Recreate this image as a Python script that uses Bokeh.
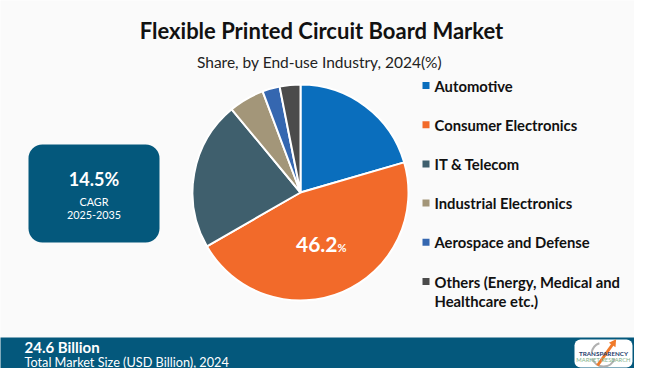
import math
from bokeh.plotting import figure
from bokeh.models import Range1d, ColumnDataSource
from bokeh.core.properties import value
from bokeh.embed import file_html
from bokeh.resources import INLINE

# ---- data ----
segments = ["Automotive", "Consumer Electronics", "IT & Telecom",
            "Industrial Electronics", "Aerospace and Defense",
            "Others (Energy, Medical and Healthcare etc.)"]
shares = [20.5, 46.2, 22.3, 5.3, 2.6, 3.1]
colors = ["#0A6EBD", "#F26A2A", "#3F5F6D", "#A39679", "#3567B0", "#4B4B4B"]
legend_lines = [["Automotive"], ["Consumer Electronics"], ["IT & Telecom"],
                ["Industrial Electronics"], ["Aerospace and Defense"],
                ["Others (Energy, Medical and", "Healthcare etc.)"]]
highlight_index = 1

title = "Flexible Printed Circuit Board Market"
subtitle = "Share, by End-use Industry, 2024(%)"
cagr_value = "14.5%"
cagr_label = "CAGR"
cagr_period = "2025-2035"
market_value = "24.6 Billion"
market_label = "Total Market Size (USD Billion), 2024"

DARK = "#04587C"
BG = "#FAFAFA"
TF = value("Lato")

W, H = 634, 368


def X(x):
    return x


def Y(y):
    return H - y


p = figure(width=W, height=H, x_range=Range1d(0, W), y_range=Range1d(0, H),
           output_backend="svg", toolbar_location=None, min_border=0)
p.axis.visible = False
p.grid.visible = False
p.outline_line_color = None
p.background_fill_color = BG
p.border_fill_color = BG

# ---- titles ----
p.text(x=[X(321)], y=[Y(30)], text=[title], text_font=TF, text_font_style="bold",
       text_font_size="22px", text_color="#111111", text_align="center", text_baseline="middle")
p.text(x=[X(319)], y=[Y(61)], text=[subtitle], text_font=TF,
       text_font_size="15.5px", text_color="#222222", text_align="center", text_baseline="middle")

# ---- pie ----
cx, cy, R = X(300), Y(192), 108
starts, ends, mids = [], [], []
cum = 0.0
total = sum(shares)
for s in shares:
    a0 = math.pi / 2 - cum / total * 2 * math.pi
    cum += s
    a1 = math.pi / 2 - cum / total * 2 * math.pi
    starts.append(a0)
    ends.append(a1)
    mids.append((a0 + a1) / 2)
src = ColumnDataSource(dict(start=starts, end=ends, color=colors, name=segments, share=shares))
p.wedge(x=cx, y=cy, radius=R, start_angle="start", end_angle="end", direction="clock",
        fill_color="color", line_color="white", line_width=2, source=src)

# highlight label
m = mids[highlight_index]
lx = cx + 0.52 * R * math.cos(m)
ly = cy + 0.52 * R * math.sin(m)
p.text(x=[lx + 15], y=[ly], text=[f"{shares[highlight_index]:.1f}"], text_font=TF,
       text_font_style="bold", text_font_size="21px", text_color="white",
       text_align="right", text_baseline="middle")
p.text(x=[lx + 15], y=[ly - 3], text=["%"], text_font=TF, text_font_style="bold",
       text_font_size="11px", text_color="white", text_align="left", text_baseline="middle")

# ---- legend ----
row_y = [85 + 39.2 * i for i in range(len(segments))]
p.scatter(x=[X(425.5)] * len(segments), y=[Y(v) for v in row_y], marker="square", size=7,
          fill_color=colors, line_color=None)
lt_x, lt_y, lt_t = [], [], []
for i, lines in enumerate(legend_lines):
    for j, ln in enumerate(lines):
        lt_x.append(X(434))
        lt_y.append(Y(row_y[i] + 19 * j))
        lt_t.append(ln)
p.text(x=lt_x, y=lt_y, text=lt_t, text_font=TF, text_font_style="bold",
       text_font_size="14.8px", text_color="#111111", text_align="left", text_baseline="middle")

# ---- CAGR box ----
p.quad(left=[X(28)], right=[X(159)], bottom=[Y(242)], top=[Y(144)], fill_color=DARK,
       line_color=None, border_radius=14)
p.text(x=[X(93.5)], y=[Y(178)], text=[cagr_value], text_font=TF, text_font_style="bold",
       text_font_size="18px", text_color="white", text_align="center", text_baseline="middle")
p.text(x=[X(93.5), X(93.5)], y=[Y(201), Y(214)], text=[cagr_label, cagr_period], text_font=TF,
       text_font_size="10.8px", text_color="white", text_align="center", text_baseline="middle")

# ---- bottom band ----
p.quad(left=[-5], right=[W + 5], bottom=[-5], top=[Y(337)], fill_color=DARK, line_color=None)
p.text(x=[X(24)], y=[Y(346)], text=[market_value], text_font=TF, text_font_style="bold",
       text_font_size="15px", text_color="white", text_align="left", text_baseline="middle")
p.text(x=[X(24)], y=[Y(361)], text=[market_label], text_font=TF,
       text_font_size="12.7px", text_color="white", text_align="left", text_baseline="middle")

# ---- logo ----
lg_l, lg_r, lg_t, lg_b = 574, 632, 339, 367
lcx = (lg_l + lg_r) / 2
p.quad(left=[lg_l], right=[lg_r], bottom=[Y(lg_b)], top=[Y(lg_t)], fill_color="white",
       line_color=None, border_radius=6)
p.arc(x=[lcx], y=[Y(354)], radius=12, start_angle=math.radians(200), end_angle=math.radians(340),
      line_color="#B0B0B0", line_width=2)
p.arc(x=[lcx], y=[Y(354)], radius=12, start_angle=math.radians(110), end_angle=math.radians(170),
      line_color="#B0B0B0", line_width=2)
p.line(x=[lcx - 6, lcx + 9], y=[Y(365), Y(344)], line_color="#F07A2A", line_width=3)
p.scatter(x=[lcx + 10], y=[Y(342.5)], marker="triangle", size=8, angle=-0.6,
          fill_color="#F07A2A", line_color=None)
p.text(x=[lcx], y=[Y(353)], text=["TRANSPARENCY"], text_font=TF, text_font_style="bold",
       text_font_size="6.3px", text_color="#1F3D6B", text_align="center", text_baseline="middle")
p.text(x=[lcx], y=[Y(359)], text=["MARKET RESEARCH"], text_font=TF,
       text_font_size="5.8px", text_color="#7FB38A", text_align="center", text_baseline="middle")

open("out.html", "w").write(file_html(p, INLINE))
